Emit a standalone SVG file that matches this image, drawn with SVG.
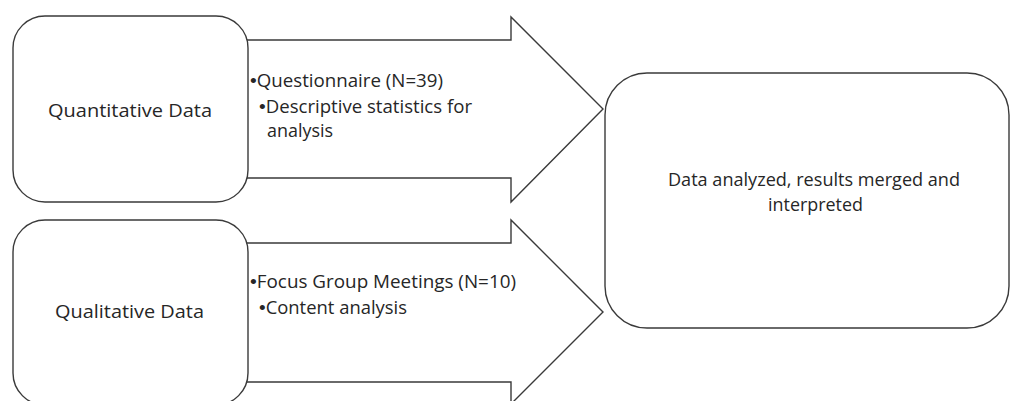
<svg xmlns="http://www.w3.org/2000/svg" width="1011" height="401" viewBox="0 0 1011 401">
<style>
.shape{fill:#fff;stroke:#3a3a3a;stroke-width:1.4}
.t{font-family:"Open Sans","Liberation Sans",sans-serif;font-size:18.5px;fill:#262626}
.b{font-family:"Liberation Sans",sans-serif;font-size:19px}
</style>
<rect width="1011" height="401" fill="#fff"/>
<g id="connectors">
<path id="arrow1" class="shape" d="M240 40 H511 V17 L603 109 L511 202 V178 H240 Z"/>
<path id="arrow2" class="shape" d="M240 243 H511 V220 L603 312 L511 404 V382 H240 Z"/>
</g>
<g id="quantitative">
<rect class="shape" x="13" y="16" width="235" height="186" rx="32" ry="32"/>
<text class="t" x="48" y="117" textLength="164" lengthAdjust="spacingAndGlyphs">Quantitative Data</text>
</g>
<g id="qualitative">
<rect class="shape" x="13" y="220" width="235" height="185" rx="32" ry="32"/>
<text class="t" x="55" y="318" textLength="149" lengthAdjust="spacingAndGlyphs">Qualitative Data</text>
</g>
<g id="quant-details">
<text class="t" x="250" y="87" textLength="193" lengthAdjust="spacingAndGlyphs"><tspan class="b">•</tspan>Questionnaire (N=39)</text>
<text class="t" x="259" y="113" textLength="213" lengthAdjust="spacingAndGlyphs"><tspan class="b">•</tspan>Descriptive statistics for</text>
<text class="t" x="267" y="137" textLength="66" lengthAdjust="spacingAndGlyphs">analysis</text>
</g>
<g id="qual-details">
<text class="t" x="250" y="288" textLength="266" lengthAdjust="spacingAndGlyphs"><tspan class="b">•</tspan>Focus Group Meetings (N=10)</text>
<text class="t" x="259" y="314" textLength="148" lengthAdjust="spacingAndGlyphs"><tspan class="b">•</tspan>Content analysis</text>
</g>
<g id="result">
<rect class="shape" x="605" y="73" width="404" height="255" rx="42" ry="42"/>
<text class="t" x="668" y="186" textLength="292" lengthAdjust="spacingAndGlyphs">Data analyzed, results merged and</text>
<text class="t" x="768" y="211" textLength="95" lengthAdjust="spacingAndGlyphs">interpreted</text>
</g>
</svg>
